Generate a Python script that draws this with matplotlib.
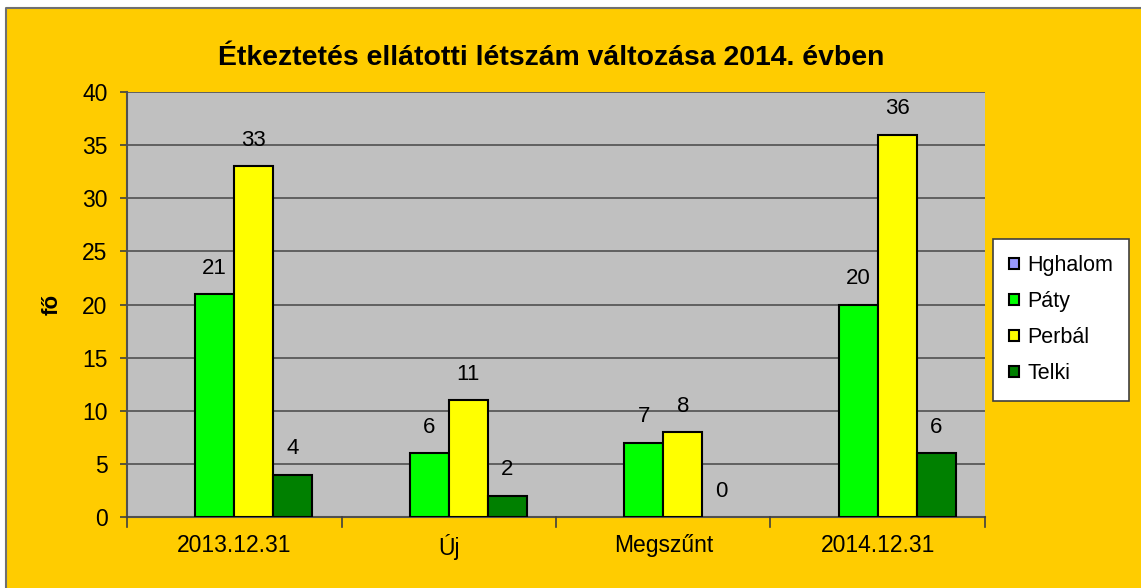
import numpy as np
import matplotlib.pyplot as plt
from matplotlib.patches import Rectangle, Patch
from matplotlib.lines import Line2D

plt.rcParams['font.family'] = ['Liberation Sans', 'DejaVu Sans']

categories = ['2013.12.31', 'Új', 'Megszűnt', '2014.12.31']
series = ['Hghalom', 'Páty', 'Perbál', 'Telki']
hghalom = [None, None, None, None]
paty = [21, 6, 7, 20]
perbal = [33, 11, 8, 36]
telki = [4, 2, 0, 6]
colors = ['#9999FF', '#00FF00', '#FFFF00', '#008000']

values = [hghalom, paty, perbal, telki]

fig = plt.figure(figsize=(11.41, 5.88), dpi=100)
fig.patch.set_facecolor('white')
# yellow chart area with grey top/left edge
x0, y1 = 6 / 1141, 1 - 8 / 588
fig.patches.append(Rectangle((x0, 0), 1.0, y1, transform=fig.transFigure,
                             facecolor='#FFCC00', edgecolor='none', zorder=-10))
fig.lines.append(Line2D([x0, x0, 1], [0, y1, y1], transform=fig.transFigure,
                        color='#707070', linewidth=1.5))

ax = fig.add_axes([127 / 1141, 1 - 517 / 588, (985 - 127) / 1141, (517 - 92) / 588])
ax.set_facecolor('#C0C0C0')

x = np.arange(len(categories))
w = 0.182
offsets = [-1.5 * w, -0.5 * w, 0.5 * w, 1.5 * w]
for name, vals, col, off in zip(series, values, colors, offsets):
    v = [0 if a is None else a for a in vals]
    bars = ax.bar(x + off, v, w, color=col, edgecolor='black', linewidth=1.5,
                  zorder=3)
    for b, a in zip(bars, vals):
        if not a:
            b.set_visible(False)
        if a is None:
            continue
        ax.annotate(str(a), (b.get_x() + b.get_width() / 2, a),
                    xytext=(0, 11), textcoords='offset points',
                    ha='center', va='bottom', fontsize=16)

ax.set_xlim(-0.5, 3.5)
ax.set_ylim(0, 40)
ax.set_yticks(range(0, 41, 5))
ax.set_xticks(x)
ax.set_xticklabels(categories)
ax.yaxis.grid(True, color='#505050', linewidth=1.2, zorder=0)
ax.tick_params(axis='both', labelsize=16.5, color='#404040', length=5, width=1.2)
ax.tick_params(axis='y', pad=9)
ax.tick_params(axis='x', length=0, pad=12)
for xm in np.arange(-0.5, 3.6, 1):
    ax.plot([xm, xm], [0, -0.9], color='#404040', lw=1.2, clip_on=False, zorder=5)
for s in ['top', 'right']:
    ax.spines[s].set_visible(False)
for s in ['left', 'bottom']:
    ax.spines[s].set_color('#505050')
    ax.spines[s].set_linewidth(1.5)

ax.set_ylabel('fő', fontsize=16, fontweight='bold', labelpad=14)
fig.text(551 / 1141, 1 - 58 / 588, 'Étkeztetés ellátotti létszám változása 2014. évben',
         ha='center', va='center', fontsize=20.4, fontweight='bold')

handles = [Patch(facecolor=c, edgecolor='black', linewidth=1.5) for c in colors]
leg = fig.legend(handles, series, loc='upper left', bbox_to_anchor=(993 / 1141, 1 - 239 / 588),
                 fontsize=15.5, frameon=True, fancybox=False, edgecolor='#404040',
                 framealpha=1, handlelength=0.45, handleheight=0.45, handletextpad=0.4,
                 labelspacing=0.7, borderpad=0.75, borderaxespad=0)
leg.get_frame().set_linewidth(1.2)
leg.get_frame().set_facecolor('white')

fig.savefig('out.png', dpi=100)
